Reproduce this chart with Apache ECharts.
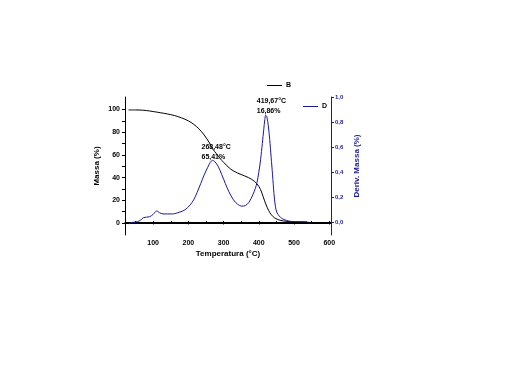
<!DOCTYPE html>
<html><head><meta charset="utf-8">
<script src="https://cdn.jsdelivr.net/npm/echarts@6/dist/echarts.min.js"></script>
<style>html,body{margin:0;padding:0;background:#fff}#c{width:512px;height:384px}</style>
</head><body><div id="c"></div>
<script>
// Mass (%) vs temperature (°C)
var massT = [30,50,70,90,100,120,140,160,180,200,215,230,245,260,268.48,280,290,300,320,340,360,380,395,405,412,419.67,428,435,445,460,480,500,540];
var massV = [99.6,99.6,99.4,98.7,98.2,97.2,96.1,94.7,92.7,90,87,83,77.5,70.5,65.41,61,56.8,53.5,47.5,44,41.5,38.5,34.5,29.5,23.5,16.86,11,7.5,4.5,2.5,1.5,1.1,0.8];
// Derivative mass vs temperature
var derT = [30,40,55,65,72,90,100,110,118,128,155,175,190,205,215,225,235,245,255,262,268.48,275,285,295,305,315,328,340,352,362,372,383,390,395,400,405,410,414,417,419.67,423,427,431,435,439,443,447,452,465,484,500,537];
var derV = [-0.01,0.0,0.006,0.02,0.038,0.046,0.065,0.092,0.078,0.068,0.068,0.082,0.1,0.14,0.18,0.24,0.31,0.38,0.44,0.478,0.495,0.485,0.445,0.38,0.31,0.245,0.18,0.145,0.13,0.135,0.16,0.22,0.27,0.32,0.40,0.50,0.63,0.74,0.82,0.855,0.84,0.77,0.66,0.52,0.38,0.23,0.13,0.075,0.033,0.012,0.007,0.006];
var xTicks = [100,200,300,400,500,600];
var xMinorTicks = [50,100,150,200,250,300,350,400,450,500,550,600];
var yLeftLabels = [0,20,40,60,80,100];
var yLeftTicks = [0,10,20,30,40,50,60,70,80,90,100];
var yRightLabels = [0,0.2,0.4,0.6,0.8,1.0];
var peak1 = {t:268.48, d:0.495, text:'268,48°C\n65,41%'};
var peak2 = {t:419.67, d:0.855, text:'419,67°C\n16,86%'};

var BLUE = '#1a1a9c';
var font = 'Liberation Sans, Arial, sans-serif';
function pairs(a,b){return a.map(function(v,i){return [v,b[i]];});}

var chart = echarts.init(document.getElementById('c'), null, {renderer:'canvas'});
chart.setOption({
  animation:false,
  backgroundColor:'#fff',
  grid:{left:125, right:181, top:97, bottom:149},
  legend:[
    {data:['B'], left:262, top:77, itemWidth:15, itemHeight:1, icon:'rect', itemGap:4,
     textStyle:{fontSize:7, fontFamily:font, fontWeight:'bold', color:'#000', padding:[0,0,0,-1]}},
    {data:['D'], left:298, top:98, itemWidth:15, itemHeight:1, icon:'rect', itemGap:4,
     textStyle:{fontSize:7, fontFamily:font, fontWeight:'bold', color:'#000', padding:[0,0,0,-1]}}
  ],
  xAxis:[
    {type:'value', min:20, max:605, position:'bottom',
     name:'Temperatura (°C)', nameLocation:'middle', nameGap:15,
     nameTextStyle:{fontSize:8, fontFamily:font, fontWeight:'bold', color:'#000'},
     axisLine:{lineStyle:{color:'#000', width:1}},
     axisTick:{inside:true, length:2, customValues:xMinorTicks, lineStyle:{color:'#000'}},
     axisLabel:{customValues:xTicks, fontSize:7, fontFamily:font, fontWeight:'bold', color:'#000', margin:5},
     splitLine:{show:false}},
    {type:'value', min:20, max:605, position:'top',
     axisLine:{lineStyle:{color:'#000', width:1}},
     axisTick:{inside:true, length:2, customValues:xTicks, lineStyle:{color:'#000'}},
     axisLabel:{show:false}, splitLine:{show:false}}
  ],
  yAxis:[
    {type:'value', min:-10.5, max:111, position:'left',
     name:'Massa (%)', nameLocation:'middle', nameGap:24, nameRotate:90,
     nameTextStyle:{fontSize:8, fontFamily:font, fontWeight:'bold', color:'#000'},
     axisLine:{show:true, lineStyle:{color:'#000', width:1}},
     axisTick:{show:true, length:3, customValues:yLeftTicks, lineStyle:{color:'#000'}},
     axisLabel:{customValues:yLeftLabels, fontSize:7, fontFamily:font, fontWeight:'bold', color:'#000', margin:5},
     splitLine:{show:false}},
    {type:'value', min:-0.1, max:1.0, position:'right',
     name:'Deriv. Massa (%)', nameLocation:'middle', nameGap:22, nameRotate:90,
     nameTextStyle:{fontSize:8, fontFamily:font, fontWeight:'bold', color:BLUE},
     axisLine:{show:true, lineStyle:{color:BLUE, width:1}},
     axisTick:{show:true, length:3, customValues:yRightLabels, lineStyle:{color:BLUE}},
     axisLabel:{customValues:yRightLabels, fontSize:6, fontFamily:font, fontWeight:'bold', color:BLUE, margin:4,
       formatter:function(v){return v.toFixed(1).replace('.', ',');}},
     splitLine:{show:false}}
  ],
  series:[
    {name:'B', type:'line', xAxisIndex:0, yAxisIndex:0, data:pairs(massT,massV), showSymbol:false, smooth:0.3,
     lineStyle:{color:'#000', width:1}, itemStyle:{color:'#000'}},
    {name:'D', type:'line', xAxisIndex:0, yAxisIndex:1, data:pairs(derT,derV), showSymbol:false, smooth:0.3,
     lineStyle:{color:BLUE, width:1}, itemStyle:{color:BLUE},
     markPoint:{symbol:'circle', symbolSize:0,
       label:{show:true, position:'inside', fontSize:7, fontFamily:font, fontWeight:'bold', color:'#000', lineHeight:10, align:'left'},
       data:[
         {coord:[peak1.t, peak1.d], value:peak1.text, label:{formatter:peak1.text, offset:[-11,-8]}},
         {coord:[peak2.t, peak2.d], value:peak2.text, label:{formatter:peak2.text, offset:[-9,-9]}}
       ]}}
  ]
});
</script></body></html>
